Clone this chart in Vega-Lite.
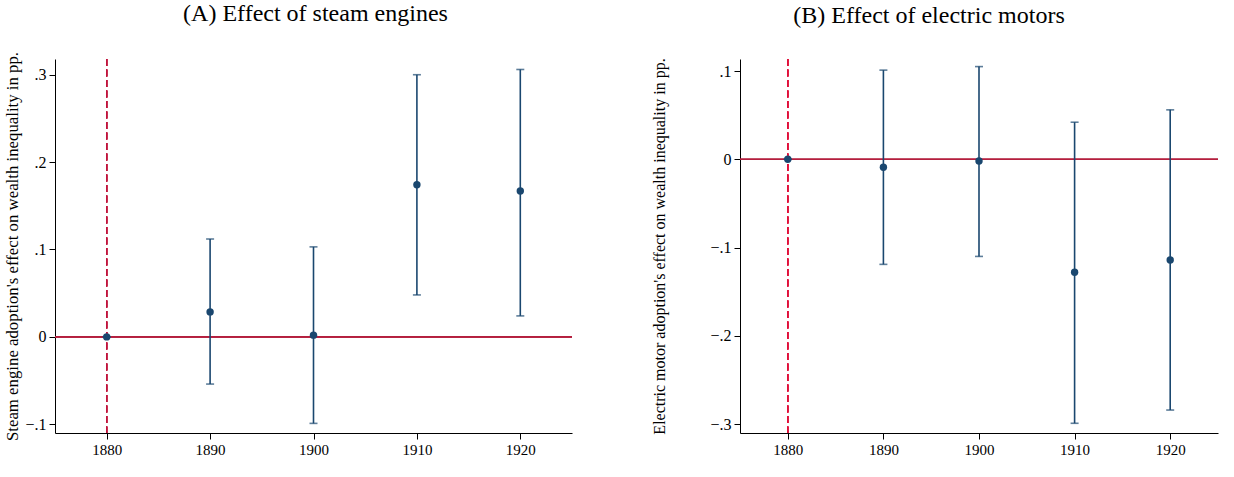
{
  "$schema": "https://vega.github.io/schema/vega-lite/v6.json",
  "padding": {"left": 4, "top": 2, "right": 0, "bottom": 0},
  "background": "white",
  "spacing": 78,
  "config": {
    "font": "Liberation Serif",
    "view": {"stroke": null},
    "axis": {"grid": false, "domainColor": "#000000", "tickColor": "#000000", "labelColor": "#000000", "titleColor": "#000000", "labelFont": "Liberation Serif", "titleFont": "Liberation Serif", "titleFontWeight": "normal", "tickSize": 6, "labelPadding": 3},
    "title": {"font": "Liberation Serif", "fontSize": 24, "fontWeight": "normal", "color": "#000000", "frame": "group", "offset": 27}
  },
  "datasets": {
    "steam": [
      {"year": 1880, "est": 0, "lo": 0, "hi": 0},
      {"year": 1890, "est": 0.0286, "lo": -0.054, "hi": 0.112},
      {"year": 1900, "est": 0.002, "lo": -0.099, "hi": 0.103},
      {"year": 1910, "est": 0.174, "lo": 0.048, "hi": 0.300},
      {"year": 1920, "est": 0.167, "lo": 0.024, "hi": 0.306}
    ],
    "electric": [
      {"year": 1880, "est": 0, "lo": 0, "hi": 0},
      {"year": 1890, "est": -0.009, "lo": -0.119, "hi": 0.101},
      {"year": 1900, "est": -0.002, "lo": -0.110, "hi": 0.105},
      {"year": 1910, "est": -0.128, "lo": -0.299, "hi": 0.042},
      {"year": 1920, "est": -0.114, "lo": -0.284, "hi": 0.056}
    ]
  },
  "hconcat": [
    {
      "title": {"text": "(A) Effect of steam engines", "dx": 2, "dy": 2},
      "width": 517,
      "height": 374,
      "data": {"name": "steam"},
      "encoding": {
        "x": {"field": "year", "type": "quantitative", "scale": {"domain": [1875, 1925], "nice": false, "zero": false},
              "axis": {"values": [1880, 1890, 1900, 1910, 1920], "format": "d", "title": null, "labelFontSize": 15}}
      },
      "layer": [
        {"mark": {"type": "rule", "color": "#c0143c", "strokeWidth": 1.3}, "encoding": {"x": {"datum": 1880}, "y": null, "strokeDash": {"value": [7, 3.5]}}},
        {"mark": {"type": "rule", "color": "#b41f3e", "strokeWidth": 1.3}, "encoding": {"y": {"datum": 0, "type": "quantitative"}, "x": null}},
        {"mark": {"type": "rule", "color": "#1a476f", "strokeWidth": 1.6},
         "encoding": {
           "y": {"field": "lo", "type": "quantitative", "scale": {"domain": [-0.11, 0.318], "nice": false, "zero": false},
                 "axis": {"values": [-0.1, 0, 0.1, 0.2, 0.3], "labelExpr": "datum.value == 0 ? '0' : replace(format(datum.value, '.1f'), '0.', '.')", "labelFontSize": 16, "title": "Steam engine adoption's effect on wealth inequality in pp.", "titleFontSize": 16.8, "titlePadding": 3}},
           "y2": {"field": "hi"}
         }},
        {"mark": {"type": "tick", "color": "#1a476f", "size": 8, "thickness": 1.6, "orient": "horizontal"}, "encoding": {"y": {"field": "lo", "type": "quantitative"}}},
        {"mark": {"type": "tick", "color": "#1a476f", "size": 8, "thickness": 1.6, "orient": "horizontal"}, "encoding": {"y": {"field": "hi", "type": "quantitative"}}},
        {"mark": {"type": "circle", "color": "#1a476f", "size": 55, "opacity": 1}, "encoding": {"y": {"field": "est", "type": "quantitative"}}}
      ]
    },
    {
      "title": {"text": "(B) Effect of electric motors", "dx": -50, "dy": -3},
      "width": 478,
      "height": 374,
      "data": {"name": "electric"},
      "encoding": {
        "x": {"field": "year", "type": "quantitative", "scale": {"domain": [1875, 1925], "nice": false, "zero": false},
              "axis": {"values": [1880, 1890, 1900, 1910, 1920], "format": "d", "title": null, "labelFontSize": 15}}
      },
      "layer": [
        {"mark": {"type": "rule", "color": "#e0103a", "strokeWidth": 1.3}, "encoding": {"x": {"datum": 1880}, "y": null, "strokeDash": {"value": [7, 3.5]}}},
        {"mark": {"type": "rule", "color": "#b41f3e", "strokeWidth": 1.3}, "encoding": {"y": {"datum": 0, "type": "quantitative"}, "x": null}},
        {"mark": {"type": "rule", "color": "#1a476f", "strokeWidth": 1.6},
         "encoding": {
           "y": {"field": "lo", "type": "quantitative", "scale": {"domain": [-0.31, 0.1136], "nice": false, "zero": false},
                 "axis": {"values": [-0.3, -0.2, -0.1, 0, 0.1], "labelExpr": "datum.value == 0 ? '0' : replace(format(datum.value, '.1f'), '0.', '.')", "labelFontSize": 16, "title": "Electric motor adoption's effect on wealth inequality in pp.", "titleFontSize": 16, "titlePadding": 42}},
           "y2": {"field": "hi"}
         }},
        {"mark": {"type": "tick", "color": "#1a476f", "size": 8, "thickness": 1.6, "orient": "horizontal"}, "encoding": {"y": {"field": "lo", "type": "quantitative"}}},
        {"mark": {"type": "tick", "color": "#1a476f", "size": 8, "thickness": 1.6, "orient": "horizontal"}, "encoding": {"y": {"field": "hi", "type": "quantitative"}}},
        {"mark": {"type": "circle", "color": "#1a476f", "size": 55, "opacity": 1}, "encoding": {"y": {"field": "est", "type": "quantitative"}}}
      ]
    }
  ]
}
